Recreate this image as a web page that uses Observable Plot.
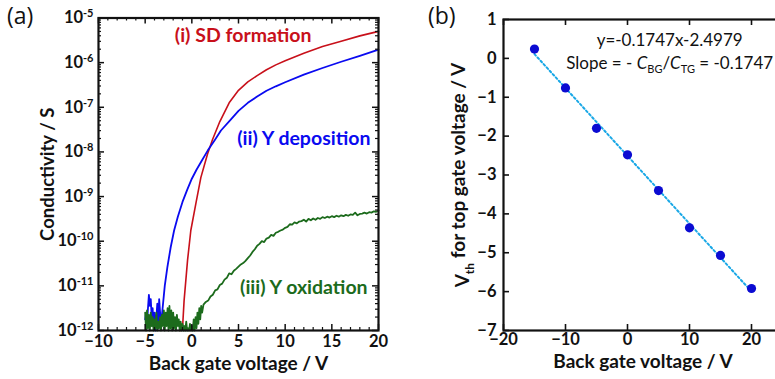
<!DOCTYPE html>
<html><head><meta charset="utf-8">
<script src="https://cdn.jsdelivr.net/npm/d3@7"></script>
<script src="https://cdn.jsdelivr.net/npm/@observablehq/plot@0.6"></script>
<style>
html,body{margin:0;padding:0;background:#fff;}
#wrap{position:relative;width:775px;height:379px;overflow:hidden;font-family:Lato,"Open Sans",sans-serif;}
.panel{position:absolute;top:0;}
.plabel{position:absolute;font-size:23px;line-height:26px;color:#111;font-family:"Open Sans",Lato,sans-serif;}
</style></head>
<body><div id="wrap"></div>
<script>
// ---------- Panel (a): conductivity vs back gate voltage (log10 S) ----------
const redV    = [-1.25,-1.0,-0.83,-0.46,-0.11,0.43,0.97,1.69,2.22,3.0,4.0,5.0,6.0,7.0,8.0,9.0,10.0,12.0,14.0,16.0,18.0,20.0];
const redLogS = [-12.0,-11.96,-11.33,-10.43,-9.76,-9.16,-8.57,-8.04,-7.72,-7.32,-6.9,-6.62,-6.43,-6.29,-6.16,-6.05,-5.96,-5.79,-5.64,-5.52,-5.4,-5.3];

const blueV    = [-5.0,-4.9,-4.8,-4.7,-4.6,-4.5,-4.4,-4.3,-4.2,-4.1,-4.0,-3.9,-3.8,-3.7,-3.6,-3.5,-3.4,-3.3,-3.2,
                  -2.9,-2.62,-2.26,-1.9,-1.5,-1.0,-0.5,0.0,0.5,1.0,1.7,2.5,3.12,4.19,5.0,6.0,7.0,8.0,9.0,10.0,12.0,14.0,16.0,18.0,20.0];
const blueLogS = [-11.75,-11.6,-11.85,-11.5,-11.2,-11.45,-11.3,-11.7,-11.5,-11.9,-11.6,-12.0,-11.7,-11.4,-11.95,-11.3,-11.6,-11.85,-11.65,
                  -11.0,-10.58,-10.13,-9.76,-9.45,-9.12,-8.85,-8.6,-8.4,-8.22,-7.97,-7.72,-7.52,-7.27,-7.08,-6.9,-6.76,-6.63,-6.53,-6.44,-6.27,-6.12,-5.98,-5.85,-5.71];

const greenV = [-5.0,-4.9,-4.8,-4.7,-4.6,-4.5,-4.4,-4.3,-4.2,-4.1,-4.0,-3.9,-3.8,-3.7,-3.6,-3.5,-3.4,-3.3,-3.2,-3.1,
  -3.0,-2.9,-2.8,-2.7,-2.6,-2.5,-2.4,-2.3,-2.2,-2.1,-2.0,-1.9,-1.8,-1.7,-1.6,-1.5,-1.4,-1.3,-1.2,-1.1,
  -1.0,-0.9,-0.8,-0.7,-0.6,-0.5,-0.4,-0.3,-0.2,-0.1,0.0,0.1,0.2,0.3,0.4,0.5,0.6,0.7,0.8,0.9,1.0,1.1,
  1.25,1.5,1.75,2.0,2.25,2.5,2.75,3.0,3.25,3.5,3.75,4.0,4.25,4.5,4.75,5.0,5.25,5.5,5.75,6.0,6.25,6.5,6.75,7.0,
  7.25,7.5,7.75,8.0,8.25,8.5,8.75,9.0,9.25,9.5,9.75,10.0,10.25,10.5,10.75,11.0,11.25,11.5,11.75,12.0,12.25,12.5,
  12.75,13.0,13.25,13.5,13.75,14.0,14.25,14.5,14.75,15.0,15.25,15.5,15.75,16.0,16.25,16.5,16.75,17.0,17.25,17.5,
  17.75,18.0,18.25,18.5,18.75,19.0,19.25,19.5,19.75,20.0];
const greenLogS = [-11.6,-12.0,-11.55,-11.95,-11.65,-12.0,-11.6,-11.9,-11.7,-12.0,-11.75,-11.95,-11.6,-12.0,-11.8,-11.95,-11.7,-12.0,-11.65,-11.9,
  -11.55,-12.0,-11.6,-11.9,-11.5,-12.0,-11.45,-11.95,-11.55,-12.0,-11.6,-11.95,-11.7,-12.0,-11.65,-11.9,-11.75,-12.0,-11.8,-12.0,
  -11.85,-12.0,-11.9,-12.0,-11.8,-12.0,-11.95,-12.0,-11.85,-12.0,-11.9,-12.0,-11.75,-12.0,-11.7,-11.95,-11.6,-11.85,-11.5,-11.75,-11.45,-11.6,
  -11.42,-11.36,-11.33,-11.24,-11.2,-11.1,-11.08,-10.98,-10.95,-10.86,-10.82,-10.72,-10.74,-10.66,-10.62,-10.57,-10.52,-10.49,-10.44,-10.38,-10.32,-10.24,-10.18,-10.1,
  -10.06,-10.0,-10.02,-9.94,-9.92,-9.86,-9.88,-9.81,-9.79,-9.76,-9.74,-9.7,-9.68,-9.62,-9.63,-9.58,-9.6,-9.56,-9.55,-9.52,-9.56,-9.5,
  -9.53,-9.49,-9.52,-9.48,-9.5,-9.46,-9.48,-9.45,-9.47,-9.44,-9.46,-9.43,-9.45,-9.42,-9.44,-9.41,-9.43,-9.4,-9.41,-9.36,
  -9.42,-9.39,-9.38,-9.36,-9.38,-9.35,-9.36,-9.33,-9.34,-9.31];

const aXTicks = [-10,-5,0,5,10,15,20];
const aYExponents = [-12,-11,-10,-9,-8,-7,-6,-5];
const seriesLabels = ["(i) SD formation","(ii) Y deposition","(iii) Y oxidation"];

// ---------- Panel (b): threshold voltage vs back gate voltage ----------
const bgV  = [-15,-10,-5,0,5,10,15,20];
const vth  = [0.24,-0.76,-1.80,-2.48,-3.40,-4.36,-5.07,-5.92];
const bXTicks = [-20,-10,0,10,20];
const bYTicks = [-7,-6,-5,-4,-3,-2,-1,0,1];
const fitText = "y=-0.1747x-2.4979";
const slopeText = "Slope = - C_BG/C_TG = -0.1747";
const vthTitle = "V_th for top gate voltage / V";

// ---------- build ----------
const wrap = document.getElementById("wrap");
const rows = (xs, ys) => xs.map((v, i) => ({v, s: Math.pow(10, ys[i])}));
const red = rows(redV, redLogS), blue = rows(blueV, blueLogS), green = rows(greenV, greenLogS);

const A = {w: 390, h: 379, ml: 98, mr: 12, mt: 17.5, mb: 49};
const aPW = A.w - A.ml - A.mr, aPH = A.h - A.mt - A.mb;
const decades = aYExponents.map(e => Math.pow(10, e));
const minorY = [];
for (let e = -12; e < -5; e++) for (let k = 2; k <= 9; k++) minorY.push(k * Math.pow(10, e));
const minorX = d3.range(-10, 21).filter(d => d % 5 !== 0);

const plotA = Plot.plot({
  width: A.w, height: A.h, marginLeft: A.ml, marginRight: A.mr, marginTop: A.mt, marginBottom: A.mb,
  style: {fontFamily: "Lato, sans-serif", fontWeight: "bold", fontSize: "15px", color: "#111", background: "transparent", overflow: "visible"},
  x: {domain: [-10, 20]},
  y: {type: "log", domain: [1e-12, 1e-5]},
  marks: [
    Plot.line(red,   {x: "v", y: "s", stroke: "#c8101a", strokeWidth: 1.6}),
    Plot.line(blue,  {x: "v", y: "s", stroke: "#0a0af0", strokeWidth: 1.8}),
    Plot.line(green, {x: "v", y: "s", stroke: "#1c6b1c", strokeWidth: 1.8}),
    // inward ticks
    Plot.tickY(decades, {y: d => d, insetRight: aPW - 6, strokeWidth: 1.5, stroke: "#111"}),
    Plot.tickY(decades, {y: d => d, insetLeft: aPW - 6, strokeWidth: 1.5, stroke: "#111"}),
    Plot.tickY(minorY, {y: d => d, insetRight: aPW - 3, strokeWidth: 1.2, stroke: "#111"}),
    Plot.tickY(minorY, {y: d => d, insetLeft: aPW - 3, strokeWidth: 1.2, stroke: "#111"}),
    Plot.tickX(aXTicks, {x: d => d, insetTop: aPH - 6, strokeWidth: 1.5, stroke: "#111"}),
    Plot.tickX(aXTicks, {x: d => d, insetBottom: aPH - 6, strokeWidth: 1.5, stroke: "#111"}),
    Plot.tickX(minorX, {x: d => d, insetTop: aPH - 3, strokeWidth: 1.2, stroke: "#111"}),
    Plot.tickX(minorX, {x: d => d, insetBottom: aPH - 3, strokeWidth: 1.2, stroke: "#111"}),
    Plot.frame({stroke: "#111", strokeWidth: 2.2}),
    Plot.axisX(aXTicks, {tickSize: 0, tickPadding: 5, label: null, fontSize: 16.5, fill: "#111"}),
    Plot.axisY(decades, {tickSize: 0, tickPadding: 5, label: null, fontSize: 16.5, fill: "#111",
      tickFormat: d => "10^" + Math.round(Math.log10(d))}),
    Plot.text(["Back gate voltage / V"], {frameAnchor: "bottom", lineAnchor: "middle", dy: 33.5, fontSize: 19, fill: "#111"}),
    Plot.text(["Conductivity / S"], {frameAnchor: "left", textAnchor: "middle", lineAnchor: "middle", rotate: -90, dx: -50, fontSize: 18.5, fill: "#111"}),
    Plot.text([seriesLabels[0]], {x: 5.5, y: Math.pow(10, -5.39), fill: "#c8101a", fontSize: 19.5}),
    Plot.text([seriesLabels[1]], {x: 12.0, y: Math.pow(10, -7.70), fill: "#0a0af0", fontSize: 19.5}),
    Plot.text([seriesLabels[2]], {x: 12.0, y: Math.pow(10, -11.04), fill: "#1c6b1c", fontSize: 19.5})
  ]
});
plotA.classList.add("panel");
plotA.style.left = "0px";
wrap.appendChild(plotA);

// superscript exponents on y tick labels
d3.select(plotA).selectAll("text").filter(function () { return /^10\^/.test(this.textContent); }).each(function () {
  const e = this.textContent.split("^")[1];
  const t = d3.select(this);
  t.text(null);
  t.append("tspan").text("10");
  t.append("tspan").attr("dy", "-0.55em").attr("font-size", "11px").text(e);
});

// Panel (b)
const B = {w: 400, h: 379, ml: 113, mr: 8, mt: 19, mb: 49};
const bPW = B.w - B.ml - B.mr, bPH = B.h - B.mt - B.mb;
const pts = bgV.map((x, i) => ({x, y: vth[i]}));

const plotB = Plot.plot({
  width: B.w, height: B.h, marginLeft: B.ml, marginRight: B.mr, marginTop: B.mt, marginBottom: B.mb,
  style: {fontFamily: "Lato, sans-serif", fontWeight: "bold", fontSize: "15px", color: "#111", background: "transparent", overflow: "visible"},
  x: {domain: [-20, 25]},
  y: {domain: [-7, 1]},
  marks: [
    Plot.linearRegressionY(pts, {x: "x", y: "y", ci: 0, stroke: "#1aa8e6", strokeWidth: 2, strokeDasharray: "2,2.5"}),
    Plot.dot(pts, {x: "x", y: "y", r: 4.6, fill: "#0b0bd2", stroke: "none"}),
    Plot.tickY(bYTicks, {y: d => d, insetRight: bPW - 6, strokeWidth: 1.6, stroke: "#111"}),
    Plot.tickX(bXTicks, {x: d => d, insetTop: bPH - 6, strokeWidth: 1.6, stroke: "#111"}),
    Plot.tickX(bXTicks, {x: d => d, insetBottom: bPH - 6, strokeWidth: 1.6, stroke: "#111"}),
    Plot.frame({stroke: "#111", strokeWidth: 2.2}),
    Plot.axisX(bXTicks, {tickSize: 0, tickPadding: 3, label: null, fontSize: 16.5, fill: "#111"}),
    Plot.axisY(bYTicks, {tickSize: 0, tickPadding: 7, label: null, fontSize: 16.5, fill: "#111"}),
    Plot.text(["Back gate voltage / V"], {frameAnchor: "bottom", lineAnchor: "middle", dy: 31.5, fontSize: 19, fill: "#111"}),
    Plot.text([vthTitle], {frameAnchor: "left", textAnchor: "middle", lineAnchor: "middle", rotate: -90, dx: -41, fontSize: 19, fill: "#111"}),
    Plot.text([fitText], {x: 6.8, y: 0.46, fontSize: 17, fontWeight: "normal", fill: "#111"}),
    Plot.text([slopeText], {x: 6.8, y: -0.13, fontSize: 17, fontWeight: "normal", fill: "#111"})
  ]
});
plotB.classList.add("panel");
plotB.style.left = "390px";
wrap.appendChild(plotB);

// V_th subscript
d3.select(plotB).selectAll("text").filter(function () { return this.textContent === vthTitle; }).each(function () {
  const t = d3.select(this);
  t.text(null);
  t.append("tspan").text("V");
  t.append("tspan").attr("dy", "0.45em").attr("font-size", "12px").text("th");
  t.append("tspan").attr("dy", "-0.45em").text(" for top gate voltage / V");
});
// Slope = - C_BG/C_TG = -0.1747
d3.select(plotB).selectAll("text").filter(function () { return this.textContent === slopeText; }).each(function () {
  const t = d3.select(this);
  t.text(null);
  t.append("tspan").text("Slope = - ");
  t.append("tspan").attr("font-style", "italic").text("C");
  t.append("tspan").attr("dy", "4").attr("font-size", "11px").text("BG");
  t.append("tspan").attr("dy", "-4").text("/");
  t.append("tspan").attr("font-style", "italic").text("C");
  t.append("tspan").attr("dy", "4").attr("font-size", "11px").text("TG");
  t.append("tspan").attr("dy", "-4").text(" = -0.1747");
});

// panel letters
for (const [txt, left] of [["(a)", 7], ["(b)", 428]]) {
  const d = document.createElement("div");
  d.className = "plabel";
  d.style.left = left + "px";
  d.style.top = "2px";
  d.textContent = txt;
  wrap.appendChild(d);
}
</script>
</body></html>
